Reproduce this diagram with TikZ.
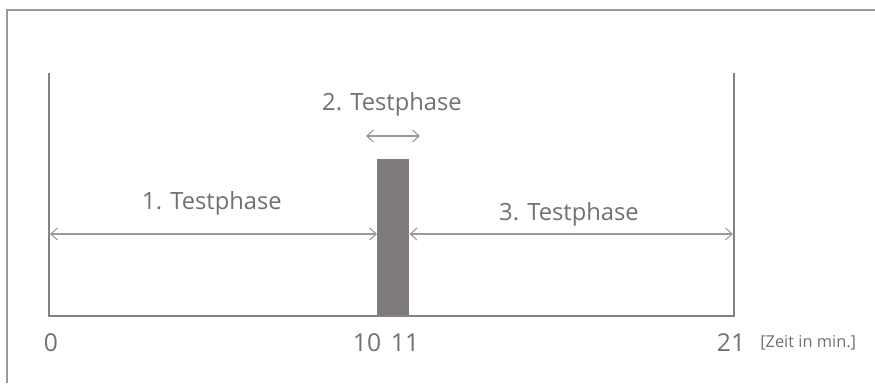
\documentclass[tikz,border=0pt]{standalone}
\usepackage{fontspec}
\setmainfont{Open Sans}
\usetikzlibrary{arrows.meta}
\definecolor{framegray}{HTML}{9A9A9A}
\definecolor{axisgray}{HTML}{858181}
\definecolor{bargray}{HTML}{7F7B7A}
\definecolor{dimgray}{HTML}{9A9898}
\definecolor{textgray}{HTML}{737070}
\tikzset{
  frameline/.style={draw=framegray, line width=1.5pt},
  axisline/.style={draw=axisgray, line width=1.9pt},
  dimline/.style={draw=dimgray, line width=0.8pt,
    {Straight Barb[length=5pt,width=9pt]}-{Straight Barb[length=5pt,width=9pt]}},
  phase/.style={text=textgray, font=\fontsize{17.8}{20}\selectfont, inner sep=0pt},
  tick/.style={text=textgray, font=\fontsize{18.5}{21}\selectfont, inner sep=0pt},
  unit/.style={text=textgray, font=\fontsize{12.3}{14}\selectfont, inner sep=0pt},
  barbox/.style={fill=bargray, draw=none, minimum width=24pt, minimum height=117.75pt,
    inner sep=0pt, anchor=south west}
}
\begin{document}
\begin{tikzpicture}[x=0.75pt, y=-0.75pt]
\useasboundingbox (0,0) rectangle (875,383);
% outer frame, open to the right and bottom
\draw[frameline] (7,383) -- (7,10) -- (875,10);
% axis corners
\coordinate (tl) at (49,73);
\coordinate (bl) at (49,316);
\coordinate (br) at (734,316);
\coordinate (tr) at (734,73);
% test phase 2 bar
\node[barbox] (bar) at (377,316) {};
% axis frame
\draw[axisline] (tl) -- (bl) -- (br) -- (tr);
% dimension arrows
\coordinate (lA) at (50,234);
\coordinate (rA) at (733,234);
\draw[dimline] (lA) -- (bar.west |- lA);
\draw[dimline] (bar.east |- rA) -- (rA);
\coordinate (sL) at (366,136);
\coordinate (sR) at (420,136);
\draw[dimline] (sL) -- (sR);
% phase labels
\node[phase] (p1) at (212,203) {1. Testphase};
\node[phase] (p2) at (392,104) {2. Testphase};
\node[phase] (p3) at (569,214) {3. Testphase};
% time ticks
\node[tick] (t0) at (51,343) {0};
\node[tick] (t10) at (367,343) {10};
\node[tick] (t11) at (405,343) {11};
\node[tick] (t21) at (731,343) {21};
\node[unit, anchor=west] (u) at (760,343) {[Zeit in min.]};
\end{tikzpicture}
\end{document}
